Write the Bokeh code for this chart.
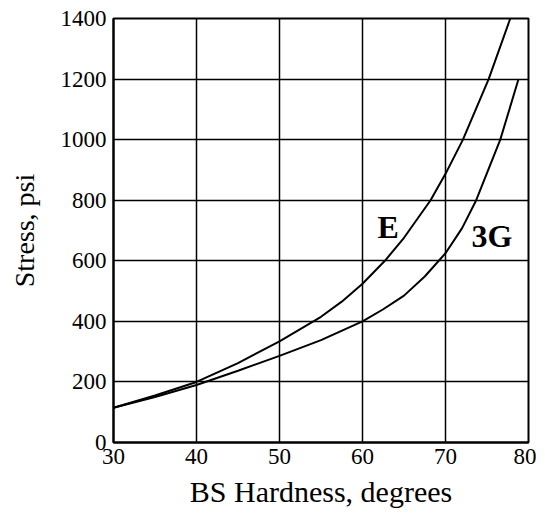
from bokeh.plotting import figure
from bokeh.models import Range1d, FixedTicker, Label
from bokeh.embed import file_html
from bokeh.resources import INLINE

# Data
e_x = [30, 35, 40, 45, 50, 55, 57.5, 60, 62.7, 65, 68.2, 70, 72.1, 75.2, 77.8]
e_y = [115, 155, 200, 262, 334, 415, 465, 524, 600, 676, 800, 887, 1000, 1200, 1400]
g_x = [30, 35, 40, 45, 50, 55, 60, 62.5, 65, 67.5, 70, 72, 73.7, 76.6, 78.8]
g_y = [115, 150, 190, 237, 286, 338, 400, 440, 485, 548, 625, 708, 800, 1000, 1200]
x_ticks = [30, 40, 50, 60, 70, 80]
y_ticks = [0, 200, 400, 600, 800, 1000, 1200, 1400]

FONT = "Liberation Serif"

p = figure(frame_width=415, frame_height=424, output_backend="svg", toolbar_location=None,
           x_range=Range1d(30, 80), y_range=Range1d(0, 1400),
           min_border_left=113, min_border_top=18, min_border_right=8, min_border_bottom=75)

p.outline_line_color = "black"
p.outline_line_width = 2
p.background_fill_color = "white"

for ax in (p.xaxis[0], p.yaxis[0]):
    ax.axis_line_color = "black"
    ax.axis_line_width = 2
    ax.major_tick_out = 0
    ax.major_tick_in = 0
    ax.minor_tick_out = 0
    ax.minor_tick_in = 0
    ax.major_label_text_font = FONT
    ax.major_label_text_font_size = "23px"
    ax.major_label_text_color = "black"
    ax.axis_label_text_font = FONT
    ax.axis_label_text_font_style = "normal"
    ax.axis_label_text_color = "black"

p.xaxis.axis_label_text_font_size = "30px"
p.yaxis.axis_label_text_font_size = "28px"
p.xaxis.ticker = FixedTicker(ticks=x_ticks)
p.yaxis.ticker = FixedTicker(ticks=y_ticks)
p.xaxis.axis_label = "BS Hardness, degrees"
p.yaxis.axis_label = "Stress, psi"
p.xaxis.major_label_standoff = 6
p.yaxis.major_label_standoff = 7
p.xaxis.axis_label_standoff = 8
p.yaxis.axis_label_standoff = 18

for g in (p.xgrid[0], p.ygrid[0]):
    g.grid_line_color = "black"
    g.grid_line_width = 1.5
    g.grid_line_alpha = 1.0

p.line(e_x, e_y, line_color="black", line_width=2)
p.line(g_x, g_y, line_color="black", line_width=2)

p.add_layout(Label(x=63.1, y=710, text="E", text_font=FONT, text_font_size="32px",
                   text_font_style="bold", text_align="center", text_baseline="middle",
                   text_color="black"))
p.add_layout(Label(x=75.6, y=681, text="3G", text_font=FONT, text_font_size="32px",
                   text_font_style="bold", text_align="center", text_baseline="middle",
                   text_color="black"))

open("out.html", "w").write(file_html(p, INLINE))
